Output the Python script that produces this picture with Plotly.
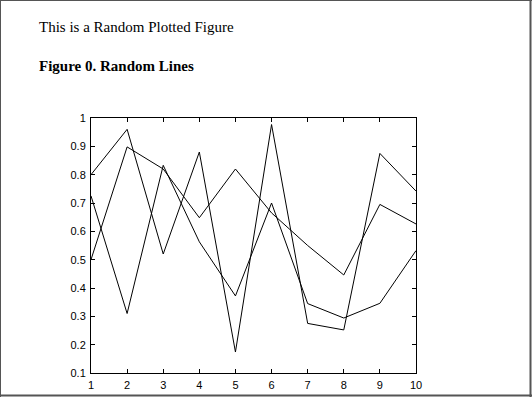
import plotly.graph_objects as go

x_vals = [1, 2, 3, 4, 5, 6, 7, 8, 9, 10]
series_a = [0.80, 0.96, 0.52, 0.88, 0.174, 0.977, 0.275, 0.252, 0.875, 0.742]
series_b = [0.725, 0.31, 0.833, 0.563, 0.372, 0.70, 0.345, 0.294, 0.346, 0.532]
series_c = [0.50, 0.898, 0.82, 0.648, 0.82, 0.665, 0.55, 0.446, 0.695, 0.626]
y_ticks = [0.1, 0.2, 0.3, 0.4, 0.5, 0.6, 0.7, 0.8, 0.9, 1.0]
y_tick_text = ["0.1", "0.2", "0.3", "0.4", "0.5", "0.6", "0.7", "0.8", "0.9", "1"]
heading = "This is a Random Plotted Figure"
caption = "Figure 0. Random Lines"

W, H = 532, 397
L, R, T, B = 91, 116, 118, 24
pw, ph = W - L - R, H - T - B


def px(X):
    return (X - L) / pw


def py(Y):
    return (H - B - Y) / ph


fig = go.Figure()
for s in (series_a, series_b, series_c):
    fig.add_trace(go.Scatter(x=x_vals, y=s, mode="lines",
                             line=dict(color="black", width=1),
                             showlegend=False, hoverinfo="skip"))

axis_common = dict(showgrid=False, zeroline=False, showline=True,
                   linecolor="black", linewidth=1, mirror="ticks",
                   ticks="inside", ticklen=4, tickcolor="black", tickwidth=1,
                   automargin=False, ticklabelstandoff=2,
                   tickfont=dict(family="Arial", size=11, color="black"))

fig.update_xaxes(range=[1, 10], tickvals=x_vals, **axis_common)
fig.update_yaxes(range=[0.1, 1], tickvals=y_ticks, ticktext=y_tick_text, **axis_common)

fig.add_annotation(text=heading, xref="paper", yref="paper",
                   x=px(37), y=py(27), xanchor="left", yanchor="middle",
                   showarrow=False,
                   font=dict(family="Times New Roman", size=15, color="black"))
fig.add_annotation(text="<b>" + caption + "</b>", xref="paper", yref="paper",
                   x=px(37), y=py(66), xanchor="left", yanchor="middle",
                   showarrow=False,
                   font=dict(family="Times New Roman", size=15, color="black"))

border = "#555555"
fig.add_shape(type="line", xref="paper", yref="paper",
              x0=px(0), x1=px(532), y0=py(0.5), y1=py(0.5),
              line=dict(color=border, width=1))
fig.add_shape(type="line", xref="paper", yref="paper",
              x0=px(0.5), x1=px(0.5), y0=py(0), y1=py(397),
              line=dict(color=border, width=1))
fig.add_shape(type="line", xref="paper", yref="paper",
              x0=px(530.5), x1=px(530.5), y0=py(0), y1=py(397),
              line=dict(color=border, width=2))
fig.add_shape(type="line", xref="paper", yref="paper",
              x0=px(0), x1=px(532), y0=py(395.5), y1=py(395.5),
              line=dict(color=border, width=2))

fig.update_layout(width=W, height=H, margin=dict(l=L, r=R, t=T, b=B, pad=0,
                                                 autoexpand=False),
                  paper_bgcolor="white", plot_bgcolor="white")

fig.write_html("out.html", config={"displayModeBar": False},
               post_script="document.body.style.margin='0';document.body.style.overflow='hidden';")
